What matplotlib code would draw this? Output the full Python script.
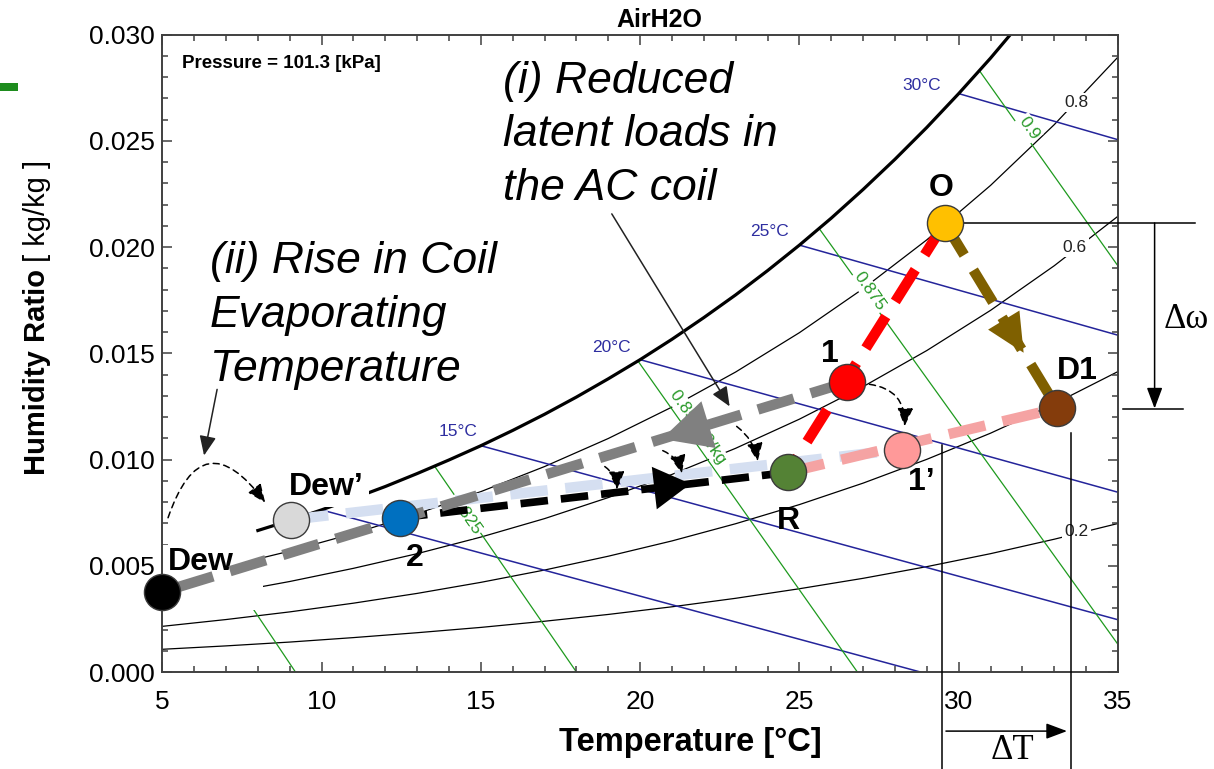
import numpy as np
import matplotlib.pyplot as plt
from matplotlib.patches import Rectangle, FancyArrowPatch
from matplotlib.ticker import MultipleLocator, FormatStrFormatter

plt.rcParams['font.family'] = ['Liberation Sans', 'DejaVu Sans']

# ---- psychrometric background ----
# saturation line, visible part
sat_t = [8, 9, 10, 11, 12, 13, 14, 15, 16, 17, 18, 19, 20, 21, 22, 23, 24,
         25, 26, 27, 28, 29, 30, 31, 32]
sat_w = [0.00666, 0.00713, 0.00763, 0.00817, 0.00873, 0.00934, 0.00998,
         0.01065, 0.01137, 0.01213, 0.01294, 0.01380, 0.01470, 0.01566,
         0.01668, 0.01775, 0.01889, 0.02009, 0.02136, 0.02271, 0.02413,
         0.02563, 0.02722, 0.02889, 0.03067]

# relative humidity lines
rh_t = [5, 7, 9, 11, 13, 15, 17, 19, 21, 23, 25, 27, 29, 31, 33, 35]
rh_20 = [0.00107, 0.00123, 0.00141, 0.00162, 0.00185, 0.00210, 0.00239, 0.00271,
         0.00307, 0.00347, 0.00392, 0.00441, 0.00496, 0.00557, 0.00625, 0.00699]
rh_40 = [0.00215, 0.00247, 0.00283, 0.00324, 0.00370, 0.00422, 0.00480, 0.00545,
         0.00617, 0.00698, 0.00788, 0.00889, 0.01001, 0.01124, 0.01262, 0.01414]
rh_60 = [0.00323, 0.00371, 0.00426, 0.00488, 0.00557, 0.00635, 0.00722, 0.00821,
         0.00930, 0.01053, 0.01190, 0.01343, 0.01513, 0.01702, 0.01912, 0.02145]
rh_80 = [0.00432, 0.00496, 0.00569, 0.00652, 0.00745, 0.00849, 0.00967, 0.01099,
         0.01247, 0.01412, 0.01597, 0.01804, 0.02034, 0.02290, 0.02576, 0.02894]
rh_labels = ['0.2', '0.6', '0.8']
rh_lab_t = [33.7, 33.64, 33.7]
rh_lab_w = [0.0066, 0.0200, 0.0268]

# wet-bulb lines (start on saturation, end at right edge / bottom)
wb_t0 = [10, 15, 20, 25, 30]
wb_w0 = [0.00763, 0.01065, 0.01470, 0.02009, 0.02722]
wb_t1 = [28.8, 35, 35, 35, 35]
wb_w1 = [0.0, 0.00246, 0.00846, 0.01585, 0.02505]
wb_labels = ['15°C', '20°C', '25°C', '30°C']
wb_lab_t = [14.27, 19.11, 24.07, 28.84]
wb_lab_w = [0.01132, 0.01528, 0.02075, 0.02759]

# specific volume lines
vol_t0 = [7.66, 13.55, 19.93, 25.62, 30.65]
vol_w0 = [0.0034, 0.00968, 0.01464, 0.02087, 0.02830]
vol_t1 = [9.18, 18.0, 26.82, 35.0, 35.0]
vol_w1 = [0.0, 0.0, 0.0, 0.00130, 0.01911]
vol_labels = ['0.825', '0.85 m3/kg', '0.875', '0.9']
vol_lab_t = [14.53, 21.80, 27.20, 32.20]
vol_lab_w = [0.00740, 0.01151, 0.01790, 0.02560]

# ---- state points ----
pt_names = ['Dew', "Dew'", '2', 'R', '1', "1'", 'O', 'D1']
pt_t = [5.0, 9.04, 12.46, 24.63, 26.48, 28.21, 29.56, 33.10]
pt_w = [0.00377, 0.00717, 0.00726, 0.00939, 0.01363, 0.01047, 0.02113, 0.01241]
pt_colors = ['#000000', '#D9D9D9', '#0070C0', '#548235', '#FF0000', '#FF9999',
             '#FFC000', '#843C0C']
pt_text = ['Dew', 'Dew\u2019', '2', 'R', '1', '1\u2019', 'O', 'D1']
pt_lab_t = [6.22, 10.14, 12.94, 24.66, 25.95, 28.84, 29.44, 33.73]
pt_lab_w = [0.00519, 0.00873, 0.00538, 0.00712, 0.01495, 0.00892, 0.02278, 0.01415]

# processes drawn as thick dashed lines
proc_from = ["Dew'", 'R', '2', '1', 'O', 'O']
proc_to = ["1'", 'D1', 'R', 'Dew', 'R', 'D1']
proc_colors = ['#D5DFF1', '#F5A3A3', '#000000', '#808080', '#FF0000', '#7F6000']
proc_lw = [7.5, 7.5, 5.5, 7.5, 7.5, 7.5]
proc_arrow = [None, None, 0.75, 0.27, None, 0.70]
arrow_len = [0, 0, 1.2, 1.6, 0, 1.25]
arrow_wid = [0, 0, 0.7, 0.8, 0, 0.6]

pos = dict(zip(pt_names, zip(pt_t, pt_w)))

fig = plt.figure(figsize=(12.14, 7.69), dpi=100)
ax = fig.add_axes([0.1337, 0.1261, 0.7872, 0.8290])
ax.set_xlim(5, 35)
ax.set_ylim(0, 0.030)

# background chart
ax.plot(sat_t, sat_w, color='black', lw=2.3, zorder=2)
for w in [rh_20, rh_40, rh_60, rh_80]:
    ax.plot(rh_t, w, color='black', lw=0.9, zorder=1.5)
for lab, t, w in zip(rh_labels, rh_lab_t, rh_lab_w):
    ax.text(t, w, lab, fontsize=12.5, ha='center', va='center', color='#222222',
            zorder=3, bbox=dict(facecolor='white', edgecolor='none', pad=1.5))

for t0, w0, t1, w1 in zip(wb_t0, wb_w0, wb_t1, wb_w1):
    ax.plot([t0, t1], [w0, w1], color='#24249A', lw=1.1, zorder=1.5)
for lab, t, w in zip(wb_labels, wb_lab_t, wb_lab_w):
    ax.text(t, w, lab, fontsize=12.5, ha='center', va='center', color='#2E2EA0', zorder=3)

for t0, w0, t1, w1 in zip(vol_t0, vol_w0, vol_t1, vol_w1):
    ax.plot([t0, t1], [w0, w1], color='#1E9A1E', lw=0.9, zorder=1.5)
for lab, t, w in zip(vol_labels, vol_lab_t, vol_lab_w):
    ax.text(t, w, lab, fontsize=12.5, ha='center', va='center', color='#2A9A2A',
            rotation=-55, rotation_mode='anchor', zorder=3,
            bbox=dict(facecolor='white', edgecolor='none', pad=1.0))

# label box of the Dew point hides the lines behind it
ax.add_patch(Rectangle((5.0, 0.0029), 3.17, 0.0031, facecolor='white',
                       edgecolor='none', zorder=1.8))

# process lines
for a, b, c, lw, fr, hl, hw in zip(proc_from, proc_to, proc_colors, proc_lw,
                                   proc_arrow, arrow_len, arrow_wid):
    (x0, y0), (x1, y1) = pos[a], pos[b]
    ax.plot([x0, x1], [y0, y1], color=c, lw=lw, dashes=(3.6, 1.7), zorder=5,
            solid_capstyle='butt', dash_capstyle='butt')
    if fr is not None:
        tip = (x0 + fr * (x1 - x0), y0 + fr * (y1 - y0))
        tail = (x0 + (fr - 0.2) * (x1 - x0), y0 + (fr - 0.2) * (y1 - y0))
        ax.add_patch(FancyArrowPatch(tail, tip,
                                     arrowstyle='-|>,head_length=%s,head_width=%s' % (hl, hw),
                                     mutation_scale=22, lw=0, color=c, zorder=6,
                                     shrinkA=0, shrinkB=0))

# points and their labels
for t, w, c in zip(pt_t, pt_w, pt_colors):
    ax.plot(t, w, 'o', ms=26, mfc=c, mec='#3a3a3a', mew=1.0, zorder=10, clip_on=False)
for i, (s, t, w) in enumerate(zip(pt_text, pt_lab_t, pt_lab_w)):
    bb = dict(facecolor='white', edgecolor='none', pad=4) if i == 1 else None
    ax.text(t, w, s, fontsize=23, weight='bold', ha='center', va='center',
            zorder=4.5 if i < 2 else 11, bbox=bb)

# dashed shift arrows
dash_tail = [(5.18, 0.00726), (18.89, 0.00967), (20.71, 0.01042), (23.03, 0.01156), (27.20, 0.01354)]
dash_head = [(8.23, 0.00797), (19.27, 0.00858), (21.31, 0.00934), (23.69, 0.00991), (28.30, 0.01156)]
dash_rad = [-0.95, -0.25, -0.25, -0.2, -0.45]
for tl, hd, r in zip(dash_tail, dash_head, dash_rad):
    ax.annotate('', xy=hd, xytext=tl, zorder=8,
                arrowprops=dict(arrowstyle='-|>,head_length=0.7,head_width=0.3',
                                mutation_scale=16, lw=1.1, ls=(0, (4, 3)), color='black',
                                connectionstyle='arc3,rad=%s' % r, shrinkA=0, shrinkB=0))

# comment arrows
ax.annotate('', xy=(22.81, 0.0125), xytext=(19.11, 0.02156), zorder=8,
            arrowprops=dict(arrowstyle='-|>,head_length=0.7,head_width=0.3', mutation_scale=17,
                            lw=1.1, color='#222222', shrinkA=0, shrinkB=0))
ax.annotate('', xy=(6.31, 0.01019), xytext=(6.72, 0.0133), zorder=8,
            arrowprops=dict(arrowstyle='-|>,head_length=0.7,head_width=0.3', mutation_scale=17,
                            lw=1.1, color='#222222', shrinkA=0, shrinkB=0))

ax.text(15.69, 0.02877, '(i) Reduced\nlatent loads in\nthe AC coil', fontsize=32,
        style='italic', ha='left', va='top', linespacing=1.4, zorder=7)
ax.text(6.5, 0.02028, '(ii) Rise in Coil\nEvaporating\nTemperature', fontsize=32,
        style='italic', ha='left', va='top', linespacing=1.4, zorder=7)

# delta annotations outside the axes
o_t, o_w = pos['O']
d_w = 0.0124
ax.plot([o_t, 37.41], [o_w, o_w], color='black', lw=1.1, clip_on=False, zorder=4)
ax.plot([35.15, 37.04], [d_w, d_w], color='black', lw=1.1, clip_on=False, zorder=4)
ax.annotate('', xy=(36.15, d_w), xytext=(36.15, o_w), annotation_clip=False,
            arrowprops=dict(arrowstyle='-|>,head_length=0.8,head_width=0.3', mutation_scale=16,
                            lw=1.1, color='black', shrinkA=0, shrinkB=0))
ax.text(37.15, 0.0166, '\u0394\u03c9', fontsize=25, family='Liberation Serif',
        ha='center', va='center')
ax.plot([29.49, 29.49], [0.0107, -0.0046], color='black', lw=1.1, clip_on=False, zorder=4)
ax.plot([33.54, 33.54], [0.01127, -0.0046], color='black', lw=1.1, clip_on=False, zorder=4)
ax.annotate('', xy=(33.4, -0.00278), xytext=(29.6, -0.00278), annotation_clip=False,
            arrowprops=dict(arrowstyle='-|>,head_length=0.8,head_width=0.3', mutation_scale=16,
                            lw=1.1, color='black', shrinkA=0, shrinkB=0))
ax.text(31.7, -0.00368, '\u0394T', fontsize=25, family='Liberation Serif',
        ha='center', va='center')

# axes styling
ax.xaxis.set_major_locator(MultipleLocator(5))
ax.xaxis.set_minor_locator(MultipleLocator(1))
ax.yaxis.set_major_locator(MultipleLocator(0.005))
ax.yaxis.set_minor_locator(MultipleLocator(0.001))
ax.yaxis.set_major_formatter(FormatStrFormatter('%.3f'))
ax.tick_params(which='both', direction='in', top=True, right=True, color='#404040',
               width=1.1, labelsize=19)
ax.tick_params(which='major', length=7)
ax.tick_params(which='minor', length=4.5)
ax.tick_params(axis='x', pad=13)
ax.tick_params(axis='y', pad=5.5)
for s in ax.spines.values():
    s.set_color('#404040')
    s.set_linewidth(1.4)

fig.text(0.5428, 0.974, 'AirH2O', ha='center', va='center', fontsize=18, weight='bold')
fig.text(0.1499, 0.918, 'Pressure = 101.3 [kPa]', ha='left', va='center',
         fontsize=13.5, weight='bold')
fig.text(0.5684, 0.0351, 'Temperature [°C]', ha='center', va='center',
         fontsize=23.5, weight='bold')
fig.text(0.0305, 1 - 475 / 769, 'Humidity Ratio', rotation=90, ha='center',
         va='bottom', fontsize=21, weight='bold')
fig.text(0.0305, 1 - 262 / 769, '[ kg/kg ]', rotation=90, ha='center',
         va='bottom', fontsize=21)

fig.patches.append(Rectangle((0, 0.8817), 0.0148, 0.0104, transform=fig.transFigure,
                             facecolor='#1E8C1E', edgecolor='none'))

fig.savefig('out.png', dpi=100)
